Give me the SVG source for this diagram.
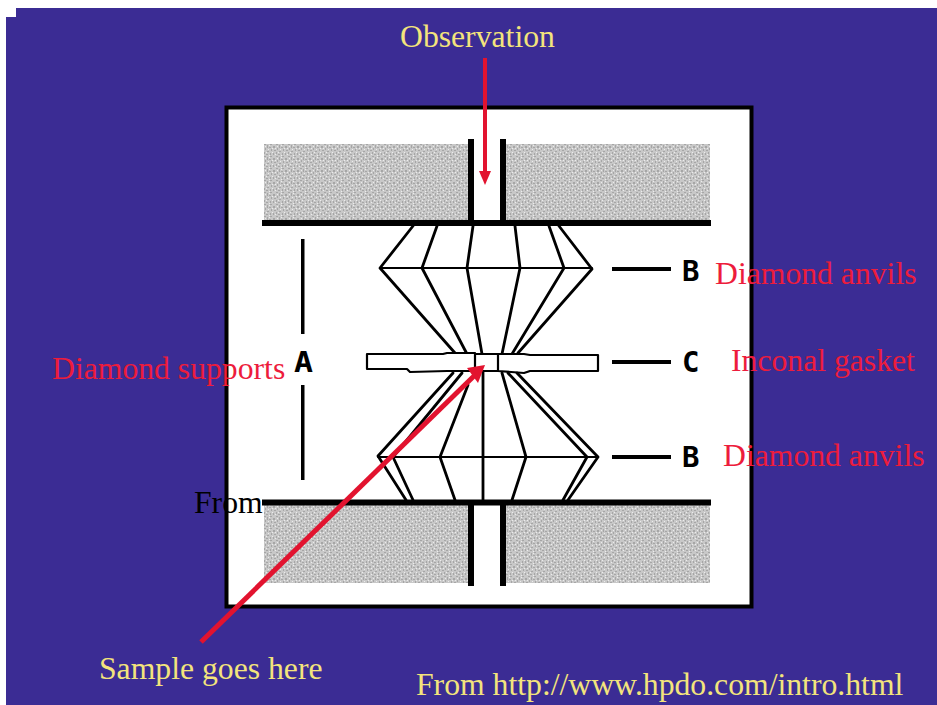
<svg xmlns="http://www.w3.org/2000/svg" width="937" height="705" viewBox="0 0 937 705">
<style>
.k{fill:none;stroke:#000;stroke-width:2.8;stroke-linejoin:round;stroke-linecap:round}
.b{fill:#000}
.t{font-family:"Liberation Serif",serif;font-size:31.7px}
.y{fill:#f3e47c}.r{fill:#ed1c3c}
.s{font-family:"DejaVu Sans Mono",monospace;font-size:29px;font-weight:bold;fill:#000}
.g{fill:url(#d)}
.a{stroke:#e2132f;stroke-width:4;fill:none}
</style>
<defs>
<pattern id="d" width="12" height="12" patternUnits="userSpaceOnUse">
<rect width="12" height="12" fill="#c8c8c8"/>
<path fill="#a6a6a6" d="M0 0h2v1h-2zM3 1h1v3h-1zM6 0h2v1h-2zM9 2h2v2h-2zM1 4h1v2h-1zM5 3h2v1h-2zM7 5h1v2h-1zM10 6h2v1h-2zM3 7h2v1h-2zM0 8h1v2h-1zM6 9h1v2h-1zM9 9h1v2h-1zM2 10h2v1h-2z"/>
<path fill="#ececec" d="M1 2h1v1h-1zM5 1h1v1h-1zM8 4h1v1h-1zM4 5h1v1h-1zM11 4h1v1h-1zM2 8h1v1h-1zM8 8h1v1h-1zM11 10h1v1h-1zM5 11h1v1h-1z"/>
</pattern>
</defs>
<rect width="937" height="705" fill="#fff"/>
<path d="M16 8H937V705H6V17H16Z" fill="#3b2c94"/>
<g id="cell">
<rect x="226.500" y="107.500" width="525" height="499" fill="#fff" stroke="#000" stroke-width="4"/>
<rect class="g" x="264" y="144" width="204" height="77"/>
<rect class="g" x="506" y="144" width="204" height="77"/>
<rect class="g" x="264" y="505" width="204" height="78"/>
<rect class="g" x="506" y="505" width="204" height="78"/>
<rect class="b" x="468" y="139" width="6" height="83"/>
<rect class="b" x="500" y="139" width="6" height="83"/>
<rect class="b" x="262" y="220" width="449" height="6"/>
<rect class="b" x="262" y="499.500" width="449" height="6"/>
<rect class="b" x="468" y="503" width="6" height="83"/>
<rect class="b" x="500" y="503" width="6" height="83"/>
</g>
<g id="upper-anvil" class="k">
<path d="M413 226L380 268L455 353M437 226L422 268L467 354M473 226L467 268L482 354M515 226L520 268L502 354M549 226L564 268L512 354M559 226L592 269L518 353"/>
<path d="M380 268H592" stroke-width="2"/>
</g>
<g id="gasket" class="k">
<path d="M367 354H443L447 353H475V371H447L410 372L407 369H367ZM475 354H498V371H475ZM498 354H524L530 355H598V371H530L524 373L498 371Z" fill="#fff" stroke-width="2.200"/>
</g>
<g id="lower-anvil" class="k">
<path d="M453 373L378 456L406 500M462 373L393 457L413 500M468 385L440 457L455 500M483 372V500M502 373L526 457L512 500M508 373L587 457L563 500M517 373L598 457L568 500"/>
<path d="M378 457H598" stroke-width="2"/>
</g>
<g id="labels-sketch">
<rect class="b" x="301" y="239" width="3.500" height="95"/>
<rect class="b" x="301" y="385" width="3.500" height="95"/>
<rect class="b" x="612" y="267" width="59" height="4"/>
<rect class="b" x="612" y="360" width="59" height="4"/>
<rect class="b" x="612" y="455" width="59" height="4"/>
<text class="s" x="294" y="372" textLength="19" lengthAdjust="spacingAndGlyphs">A</text>
<text class="s" x="682" y="281">B</text>
<text class="s" x="682" y="372">C</text>
<text class="s" x="682" y="467">B</text>
</g>
<g id="connectors">
<path class="a" d="M485 58V172"/>
<path fill="#e2132f" d="M479 171L485 185L491 171Z"/>
<path d="M201 642L474 376" stroke="#e2132f" stroke-width="5" fill="none"/>
<path fill="#e2132f" d="M467 368L485 365L478 383Z"/>
</g>
<g id="captions">
<text class="t y" x="400" y="47">Observation</text>
<text class="t r" x="715" y="284">Diamond anvils</text>
<text class="t r" x="731" y="371">Inconal gasket</text>
<text class="t r" x="723" y="466">Diamond anvils</text>
<text class="t r" x="52" y="379">Diamond supports</text>
<text class="t" x="194" y="513" fill="#000">From</text>
<text class="t y" x="99" y="679">Sample goes here</text>
<text class="t y" x="416" y="695">From http://www.hpdo.com/intro.html</text>
</g>
</svg>
